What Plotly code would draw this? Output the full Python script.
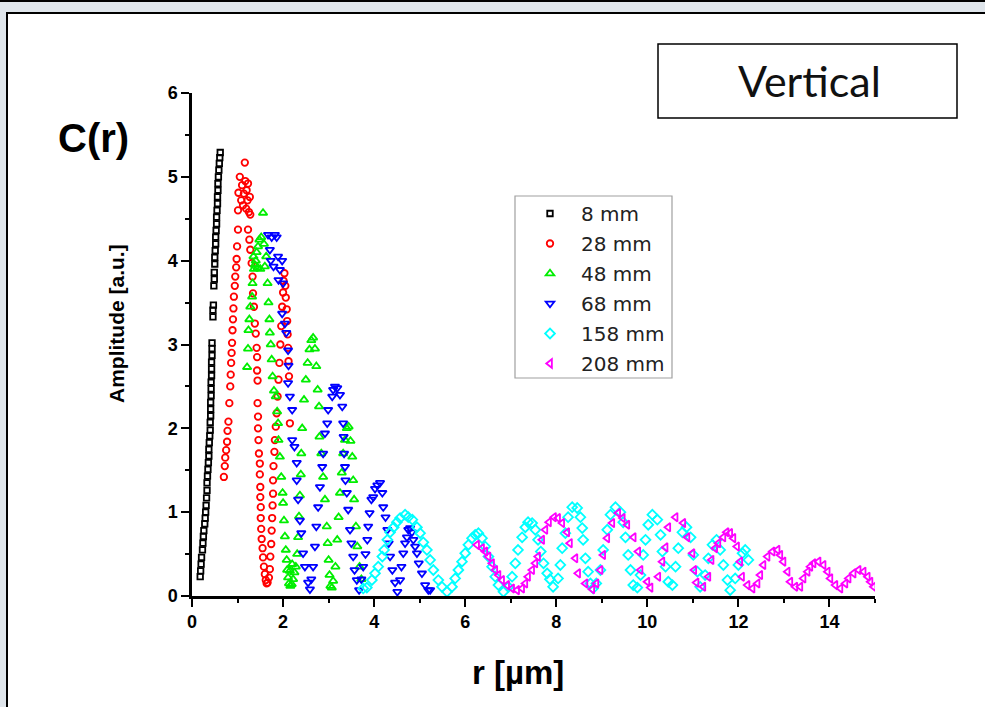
import plotly.graph_objects as go

# ---- measured amplitude C(r) versus r (µm) for each detector distance ----
r_8mm = [0.18, 0.19, 0.20, 0.21, 0.23, 0.24, 0.25, 0.26, 0.28, 0.29,
         0.30, 0.31, 0.32, 0.33, 0.33, 0.34, 0.35, 0.36, 0.37, 0.37,
         0.38, 0.39, 0.40, 0.40, 0.41, 0.41, 0.41, 0.42, 0.42, 0.42,
         0.43, 0.43, 0.43, 0.44, 0.44, 0.44, 0.46, 0.46, 0.47, 0.48,
         0.49, 0.49, 0.50, 0.50, 0.51, 0.52, 0.52, 0.53, 0.54, 0.54,
         0.55, 0.56, 0.56, 0.57, 0.57, 0.58, 0.59, 0.60, 0.61, 0.62]
amp_8mm = [0.23, 0.30, 0.38, 0.46, 0.55, 0.63, 0.71, 0.78, 0.86, 0.93,
           1.00, 1.08, 1.17, 1.26, 1.35, 1.43, 1.51, 1.59, 1.67, 1.75,
           1.83, 1.91, 1.98, 2.07, 2.15, 2.23, 2.31, 2.39, 2.47, 2.55,
           2.63, 2.71, 2.79, 2.87, 2.95, 3.02, 3.33, 3.41, 3.47, 3.70,
           3.78, 3.86, 3.96, 4.04, 4.12, 4.20, 4.28, 4.36, 4.44, 4.52,
           4.60, 4.68, 4.76, 4.84, 4.92, 5.00, 5.08, 5.16, 5.23, 5.29]

r_28mm = [0.70, 0.72, 0.73, 0.75, 0.77, 0.78, 0.80, 0.82, 0.84, 0.85,
          0.86, 0.87, 0.88, 0.89, 0.90, 0.91, 0.92, 0.94, 0.95, 0.97,
          0.98, 0.99, 1.01, 1.01, 1.02, 1.05, 1.08, 1.10, 1.12, 1.14,
          1.16, 1.17, 1.19, 1.20, 1.22, 1.23, 1.25, 1.27, 1.28, 1.23,
          1.26, 1.28, 1.31, 1.33, 1.34, 1.36, 1.38, 1.40, 1.42, 1.43,
          1.43, 1.44, 1.44, 1.45, 1.45, 1.46, 1.47, 1.49, 1.49, 1.50,
          1.50, 1.51, 1.51, 1.52, 1.53, 1.55, 1.56, 1.58, 1.60, 1.62,
          1.64, 1.66, 1.69, 1.71, 1.72, 1.74, 1.75, 1.76, 1.77, 1.78,
          1.78, 1.79, 1.81, 1.82, 1.84, 1.86, 1.88, 1.90, 1.92, 1.94,
          1.96, 1.98, 2.00, 2.01, 2.03, 2.05, 2.06, 2.08, 2.09, 2.10,
          2.11, 2.12, 2.13, 2.15]
amp_28mm = [1.42, 1.55, 1.65, 1.74, 1.84, 1.97, 2.08, 2.30, 2.50, 2.64,
            2.78, 2.90, 3.02, 3.17, 3.30, 3.43, 3.57, 3.70, 3.81, 3.92,
            4.02, 4.17, 4.37, 4.60, 4.81, 5.00, 4.72, 4.90, 4.66, 4.80,
            5.17, 4.95, 4.62, 4.84, 4.72, 4.92, 4.58, 4.76, 4.55, 4.37,
            4.25, 4.13, 3.97, 3.81, 3.61, 3.45, 3.25, 3.13, 2.96, 2.85,
            2.69, 2.57, 2.30, 2.14, 2.00, 1.86, 1.70, 1.58, 1.45, 1.30,
            1.18, 1.06, 0.93, 0.80, 0.68, 0.57, 0.46, 0.35, 0.26, 0.19,
            0.15, 0.16, 0.22, 0.32, 0.47, 0.62, 0.78, 0.93, 1.08, 1.22,
            1.38, 1.55, 1.72, 1.86, 2.02, 2.18, 2.38, 2.58, 2.78, 3.00,
            3.22, 3.45, 3.62, 3.76, 3.85, 3.70, 3.56, 3.42, 3.28, 3.12,
            2.96, 2.80, 2.62, 2.06]

r_48mm = [1.21, 1.23, 1.24, 1.26, 1.28, 1.32, 1.33, 1.36, 1.40, 1.42,
          1.45, 1.48, 1.52, 1.56, 1.58, 1.35, 1.38, 1.44, 1.50, 1.60,
          1.63, 1.66, 1.68, 1.70, 1.71, 1.73, 1.75, 1.77, 1.80, 1.84,
          1.87, 1.89, 1.90, 1.93, 1.96, 1.99, 2.00, 2.02, 2.04, 2.06,
          2.08, 2.09, 2.11, 2.13, 2.16, 2.19, 2.22, 2.15, 2.20, 2.25,
          2.28, 2.31, 2.33, 2.35, 2.37, 2.39, 2.40, 2.42, 2.46, 2.50,
          2.54, 2.58, 2.62, 2.66, 2.70, 2.73, 2.76, 2.79, 2.80, 2.84,
          2.88, 2.92, 2.96, 2.98, 3.00, 3.02, 3.04, 3.07, 3.10, 3.15,
          3.19, 3.22, 3.25, 3.29, 3.32, 3.36, 3.40, 3.44, 3.48, 3.52,
          3.54, 3.56, 3.60, 3.63, 3.68, 3.72]
amp_48mm = [2.73, 2.95, 3.17, 3.30, 3.45, 3.57, 3.73, 3.90, 4.00, 4.10,
            4.17, 4.25, 4.28, 4.57, 4.20, 4.05, 3.95, 3.92, 3.90, 3.93,
            4.05, 3.73, 3.50, 3.30, 3.14, 3.00, 2.82, 2.62, 2.45, 2.38,
            2.20, 2.06, 1.86, 1.66, 1.42, 1.23, 1.11, 0.90, 0.71, 0.55,
            0.43, 0.31, 0.22, 0.15, 0.12, 0.14, 0.20, 0.30, 0.38, 0.28,
            0.35, 0.50, 0.70, 0.95, 1.20, 1.45, 1.70, 2.00, 2.34, 2.58,
            2.78, 2.94, 3.05, 3.08, 2.95, 2.74, 2.46, 2.26, 1.90, 1.70,
            1.42, 1.15, 0.83, 0.63, 0.43, 0.25, 0.12, 0.10, 0.18, 0.35,
            0.67, 0.94, 1.23, 1.47, 1.70, 1.86, 2.00, 2.02, 1.85, 1.66,
            1.38, 1.15, 0.83, 0.59, 0.35, 0.20]

r_68mm = [1.67, 1.71, 1.75, 1.73, 1.79, 1.82, 1.86, 1.89, 1.93, 1.98,
          1.90, 2.00, 1.98, 2.04, 2.07, 2.11, 2.12, 2.11, 2.15, 2.20,
          2.20, 2.25, 2.30, 2.30, 2.33, 2.37, 2.40, 2.44, 2.48, 2.55,
          2.59, 2.62, 2.66, 2.70, 2.73, 2.77, 2.81, 2.86, 2.88, 2.92,
          2.97, 2.99, 3.08, 3.10, 3.14, 3.19, 3.25, 3.30, 3.32, 3.33,
          3.34, 3.36, 3.37, 3.40, 3.43, 3.47, 3.50, 3.54, 3.57, 3.62,
          3.67, 3.72, 3.76, 3.81, 3.85, 3.87, 3.90, 3.94, 3.98, 4.02,
          4.07, 4.13, 4.18, 4.20, 4.25, 4.29, 4.32, 4.35, 4.40, 4.46,
          4.51, 4.57, 4.60, 4.64, 4.68, 4.72, 4.75, 4.79, 4.83, 4.86,
          4.90, 4.94, 4.98, 5.05, 5.12, 5.19, 5.23]
amp_68mm = [4.31, 4.13, 4.28, 4.00, 3.93, 4.31, 4.28, 4.05, 3.89, 4.00,
            3.77, 3.73, 3.37, 3.25, 3.14, 2.93, 2.75, 2.54, 2.38, 2.22,
            1.86, 1.78, 1.59, 1.38, 1.15, 0.90, 0.75, 0.51, 0.35, 0.16,
            0.08, 0.20, 0.35, 0.59, 0.83, 1.06, 1.30, 1.54, 1.70, 1.94,
            2.06, 2.22, 2.38, 2.46, 2.50, 2.48, 2.40, 2.26, 2.06, 1.90,
            1.70, 1.54, 1.38, 1.23, 1.03, 0.79, 0.63, 0.47, 0.31, 0.19,
            0.07, 0.20, 0.35, 0.50, 0.67, 0.83, 0.99, 1.15, 1.18, 1.28,
            1.32, 1.35, 1.23, 1.06, 0.94, 0.79, 0.63, 0.47, 0.31, 0.16,
            0.05, 0.19, 0.35, 0.51, 0.63, 0.70, 0.79, 0.81, 0.76, 0.67,
            0.59, 0.51, 0.39, 0.27, 0.13, 0.07, 0.07]

r_158mm = [3.76, 3.84, 3.95, 4.02, 4.09, 4.18, 4.22, 4.29, 4.35, 4.43,
           4.50, 4.57, 4.68, 4.75, 4.84, 4.94, 5.01, 5.08, 5.16, 5.23,
           5.30, 5.41, 5.49, 5.60, 5.71, 5.78, 5.85, 5.93, 6.00, 6.07,
           6.15, 6.22, 6.29, 6.37, 6.44, 6.51, 6.59, 6.66, 6.73, 6.84,
           6.95, 7.03, 7.10, 7.16, 7.25, 7.32, 7.38, 7.47, 7.54, 7.60,
           7.66, 7.72, 7.80, 7.86, 7.93, 8.04, 8.09, 8.13, 8.20, 8.26,
           8.35, 8.46, 8.53, 8.57, 8.59, 8.64, 8.70, 8.75, 8.81, 8.88,
           8.97, 9.03, 9.12, 9.19, 9.30, 9.41, 9.47, 9.52, 9.58, 9.63,
           9.69, 9.78, 9.85, 9.91, 9.96, 10.02, 10.11, 10.22, 10.29, 10.33,
           10.40, 10.46, 10.55, 10.62, 10.68, 10.77, 10.86, 10.95, 11.01, 11.10,
           11.16, 11.27, 11.34, 11.43, 11.52, 11.60, 11.67, 11.76, 11.82, 11.93,
           12.00, 12.09, 12.15, 12.22]
amp_158mm = [0.09, 0.10, 0.19, 0.27, 0.35, 0.47, 0.55, 0.67, 0.76, 0.82,
             0.88, 0.93, 0.97, 0.94, 0.91, 0.82, 0.75, 0.64, 0.55, 0.43,
             0.31, 0.19, 0.11, 0.05, 0.11, 0.21, 0.31, 0.41, 0.51, 0.61,
             0.69, 0.73, 0.75, 0.69, 0.59, 0.47, 0.35, 0.23, 0.13, 0.05,
             0.11, 0.23, 0.39, 0.55, 0.70, 0.82, 0.88, 0.87, 0.79, 0.67,
             0.53, 0.39, 0.27, 0.20, 0.11, 0.21, 0.37, 0.57, 0.75, 0.94,
             1.06, 1.05, 0.94, 0.81, 0.67, 0.45, 0.29, 0.15, 0.09, 0.15,
             0.31, 0.55, 0.79, 0.97, 1.06, 1.00, 0.88, 0.70, 0.49, 0.31,
             0.13, 0.10, 0.25, 0.49, 0.67, 0.85, 0.97, 0.91, 0.73, 0.53,
             0.35, 0.17, 0.13, 0.35, 0.57, 0.76, 0.82, 0.70, 0.49, 0.29,
             0.11, 0.25, 0.45, 0.61, 0.67, 0.55, 0.37, 0.19, 0.07, 0.21,
             0.37, 0.51, 0.55, 0.43]

r_208mm = [6.26, 6.37, 6.44, 6.51, 6.59, 6.66, 6.73, 6.81, 6.92, 7.03,
           7.14, 7.25, 7.32, 7.38, 7.47, 7.54, 7.60, 7.69, 7.76, 7.84,
           7.95, 8.04, 8.13, 8.24, 8.30, 8.42, 8.48, 8.64, 8.79, 8.88,
           8.97, 9.03, 9.12, 9.23, 9.36, 9.46, 9.56, 9.70, 9.80, 9.85,
           10.00, 10.07, 10.24, 10.33, 10.40, 10.46, 10.62, 10.79, 10.88, 10.99,
           11.03, 11.08, 11.23, 11.34, 11.41, 11.49, 11.56, 11.67, 11.74, 11.82,
           11.89, 11.97, 12.04, 12.08, 12.20, 12.31, 12.42, 12.48, 12.55, 12.64,
           12.75, 12.86, 12.92, 12.99, 13.08, 13.14, 13.25, 13.36, 13.43, 13.52,
           13.58, 13.65, 13.76, 13.87, 13.96, 14.02, 14.13, 14.24, 14.35, 14.42,
           14.53, 14.64, 14.75, 14.84, 14.90, 14.97]
amp_208mm = [0.61, 0.57, 0.53, 0.47, 0.39, 0.31, 0.25, 0.19, 0.13, 0.09,
             0.07, 0.09, 0.15, 0.23, 0.31, 0.39, 0.47, 0.67, 0.79, 0.88,
             0.94, 0.93, 0.87, 0.76, 0.63, 0.45, 0.27, 0.15, 0.08, 0.15,
             0.31, 0.49, 0.69, 0.87, 0.99, 0.93, 0.85, 0.70, 0.53, 0.31,
             0.17, 0.10, 0.23, 0.41, 0.58, 0.82, 0.94, 0.87, 0.70, 0.51,
             0.31, 0.16, 0.11, 0.23, 0.43, 0.57, 0.63, 0.70, 0.76, 0.75,
             0.69, 0.59, 0.41, 0.23, 0.13, 0.09, 0.15, 0.25, 0.37, 0.47,
             0.53, 0.55, 0.49, 0.41, 0.29, 0.17, 0.11, 0.11, 0.21, 0.29,
             0.35, 0.39, 0.41, 0.37, 0.29, 0.21, 0.13, 0.09, 0.15, 0.21,
             0.27, 0.31, 0.29, 0.23, 0.17, 0.11]

series_names = ["8 mm", "28 mm", "48 mm", "68 mm", "158 mm", "208 mm"]
series_r = [r_8mm, r_28mm, r_48mm, r_68mm, r_158mm, r_208mm]
series_amp = [amp_8mm, amp_28mm, amp_48mm, amp_68mm, amp_158mm, amp_208mm]
series_colors = ["#000000", "#ff0000", "#00ee00", "#0000ff", "#00ffff", "#ff00ff"]
series_symbols = ["square-open", "circle-open", "triangle-up-open",
                  "triangle-down-open", "diamond-open", "triangle-left-open"]
series_sizes = [5.5, 6.5, 7.5, 7.5, 7.5, 7.5]

x_ticks = [0, 2, 4, 6, 8, 10, 12, 14]
y_ticks = [0, 1, 2, 3, 4, 5, 6]

# plot area in pixels: left 192, right 875, top 93, bottom 596
L, R, T, B = 192, 110, 93, 111
W, H = 985, 707
PW, PH = W - L - R, H - T - B


def px(xp):
    return (xp - L) / PW


def py(yp):
    return (H - B - yp) / PH


fig = go.Figure()
for name, xs, ys, col, sym, sz in zip(series_names, series_r, series_amp,
                                      series_colors, series_symbols, series_sizes):
    fig.add_trace(go.Scatter(
        x=xs, y=ys, mode="markers", name=name, legendgroup=name,
        marker=dict(symbol=sym, size=sz, color=col, line=dict(width=1.8, color=col)),
    ))

tick_font = dict(family="Liberation Sans, Arial, sans-serif", size=18, color="black", weight="bold")

fig.update_layout(
    width=W, height=H,
    margin=dict(l=L, r=R, t=T, b=B, pad=0),
    paper_bgcolor="#dfe5eb",
    plot_bgcolor="rgba(0,0,0,0)",
    showlegend=True,
    legend=dict(
        x=px(519), y=py(194), xanchor="left", yanchor="top",
        bgcolor="rgba(0,0,0,0)", borderwidth=0,
        font=dict(family="DejaVu Sans, sans-serif", size=20, color="#222222"),
        itemwidth=52, tracegroupgap=1, itemclick=False,
    ),
    xaxis=dict(
        range=[0, 15], tickvals=x_ticks, showgrid=False, zeroline=False,
        showline=True, linecolor="black", linewidth=2.5, mirror=False,
        ticks="outside", ticklen=8, tickwidth=2, tickcolor="black",
        minor=dict(dtick=1, ticks="outside", ticklen=4, tickwidth=2, tickcolor="black", showgrid=False),
        tickfont=tick_font,
    ),
    yaxis=dict(
        range=[0, 6], tickvals=y_ticks, showgrid=False, zeroline=False,
        showline=True, linecolor="black", linewidth=2.5,
        ticks="outside", ticklen=8, tickwidth=2, tickcolor="black",
        minor=dict(dtick=0.5, ticks="outside", ticklen=4, tickwidth=2, tickcolor="black", showgrid=False),
        tickfont=tick_font,
    ),
    shapes=[
        # white slide panel behind the chart
        dict(type="rect", xref="paper", yref="paper", layer="below",
             x0=px(7), x1=px(1010), y0=py(730), y1=py(13),
             fillcolor="white", line=dict(color="black", width=2)),
        # edge of the panel above
        dict(type="line", xref="paper", yref="paper",
             x0=px(-10), x1=px(1000), y0=py(1), y1=py(1),
             line=dict(color="black", width=2)),
        # legend frame
        dict(type="rect", xref="paper", yref="paper", layer="above",
             x0=px(515), x1=px(672), y0=py(378), y1=py(196),
             line=dict(color="#a0a0a0", width=1.2)),
        # title box
        dict(type="rect", xref="paper", yref="paper", layer="above",
             x0=px(658), x1=px(957), y0=py(118), y1=py(44),
             fillcolor="white", line=dict(color="black", width=1.5)),
    ],
    annotations=[
        dict(text="Vertical", xref="paper", yref="paper", x=px(809), y=py(81),
             showarrow=False, xanchor="center", yanchor="middle",
             font=dict(family="Lato, DejaVu Sans, sans-serif", size=43, color="#111111")),
        dict(text="<b>C(r)</b>", xref="paper", yref="paper", x=px(93), y=py(138),
             showarrow=False, xanchor="center", yanchor="middle",
             font=dict(family="Liberation Sans, Arial, sans-serif", size=40, color="black")),
        dict(text="<b>Amplitude [a.u.]</b>", xref="paper", yref="paper", x=px(116), y=py(324),
             showarrow=False, xanchor="center", yanchor="middle", textangle=-90,
             font=dict(family="Liberation Sans, Arial, sans-serif", size=21, color="black")),
        dict(text="<b>r [µm]</b>", xref="paper", yref="paper", x=px(518), y=py(672),
             showarrow=False, xanchor="center", yanchor="middle",
             font=dict(family="Liberation Sans, Arial, sans-serif", size=33, color="black")),
    ],
)

fig.write_html("out.html")
